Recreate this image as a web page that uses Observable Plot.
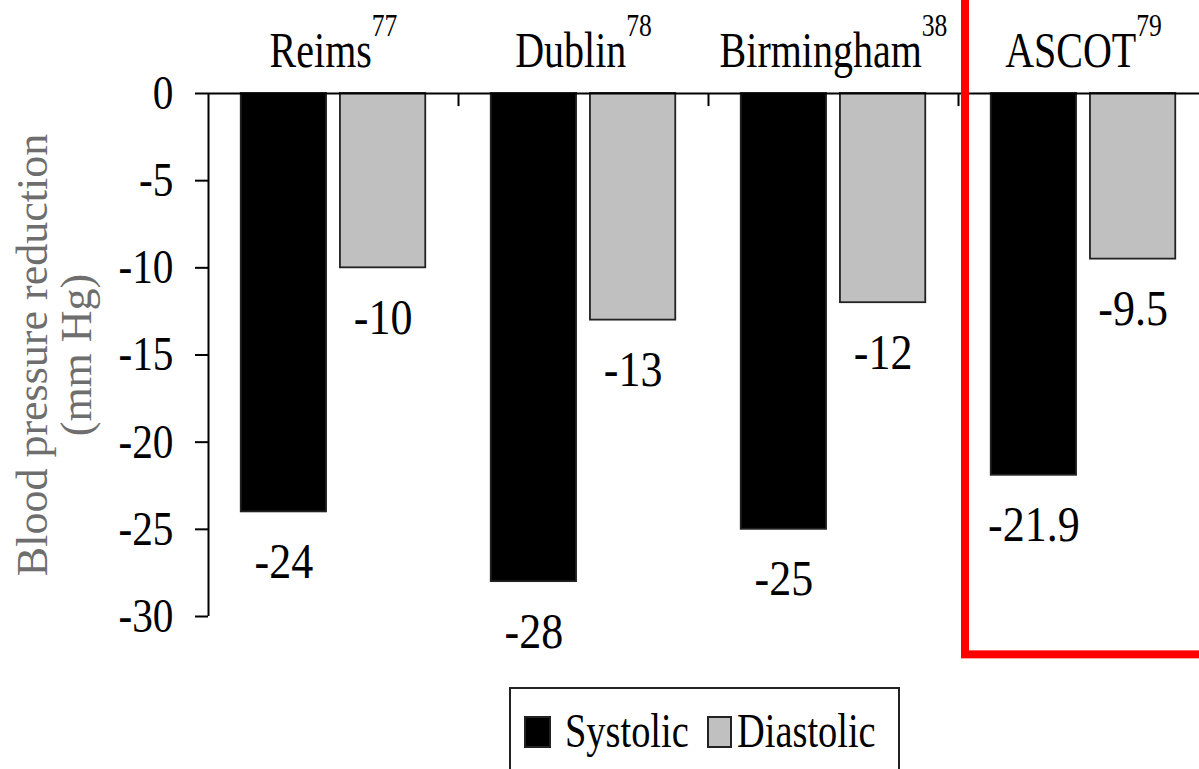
<!DOCTYPE html>
<html>
<head>
<meta charset="utf-8">
<script src="https://cdn.jsdelivr.net/npm/d3@7"></script>
<script src="https://cdn.jsdelivr.net/npm/@observablehq/plot@0.6"></script>
<style>
  html, body { margin: 0; padding: 0; background: #fff; overflow: hidden; }
  #chart svg { display: block; }
  #legend { margin: 7px 0 0 509px; }
</style>
</head>
<body>
<div id="chart"></div>
<div id="legend"></div>
<script>
// Study names and their reference numbers
const studies = ["Reims", "Dublin", "Birmingham", "ASCOT"];
const refs = ["77", "78", "38", "79"];
const series = ["Systolic", "Diastolic"];
// Blood pressure reduction (mm Hg)
const systolic = [-24, -28, -25, -21.9];
const diastolic = [-10, -13, -12, -9.5];
const yTicks = [0, -5, -10, -15, -20, -25, -30];
const colors = ["#000000", "#c0c0c0"];
const yTitle = "Blood pressure reduction\n(mm Hg)";
const highlighted = "ASCOT";

const serif = "'Liberation Serif', 'Times New Roman', serif";

// Sub-band for the two bars inside each study slot
const sub = d3.scaleBand(series, [-0.5, 0.5]).paddingInner(0.14).paddingOuter(0.33);

const rows = studies.flatMap((study, i) =>
  series.map((s, j) => {
    const value = j === 0 ? systolic[i] : diastolic[i];
    const x1 = i + sub(s);
    return {study, series: s, value, x1, x2: x1 + sub.bandwidth(), xc: x1 + sub.bandwidth() / 2};
  })
);

const boundaries = d3.range(1, studies.length).map(i => i - 0.5);
const hi = studies.indexOf(highlighted);

const chart = Plot.plot({
  width: 1199,
  height: 680,
  marginLeft: 208,
  marginRight: 0,
  marginTop: 93,
  marginBottom: 64,
  style: {fontFamily: serif, fontSize: "50px", color: "#000", background: "#fff"},
  x: {type: "linear", domain: [-0.5, studies.length - 0.5], range: [208, 1208], axis: null},
  y: {domain: [-30, 0]},
  color: {domain: series, range: colors},
  marks: [
    Plot.rectY(rows, {x1: "x1", x2: "x2", y1: 0, y2: "value", fill: "series", stroke: "#222", strokeWidth: 1.8}),
    Plot.ruleY([0], {stroke: "#000", strokeWidth: 2}),
    Plot.ruleX([-0.5], {y1: -30, y2: 0, stroke: "#000", strokeWidth: 2}),
    Plot.ruleX(boundaries, {y1: 0, y2: -0.75, stroke: "#000", strokeWidth: 2}),
    Plot.axisY({ticks: yTicks, tickFormat: d => String(d), tickSize: 13, tickPadding: 22,
                strokeWidth: 2, fontSize: 48, label: null}),
    Plot.text([yTitle], {frameAnchor: "left", textAnchor: "middle", rotate: -90, dx: -193, lineAnchor: "top",
                         fontSize: 44, fill: "#6e6e6e", lineHeight: 1.0, ariaDescription: "ytitle"}),
    Plot.text(studies, {x: (d, i) => i, frameAnchor: "top", dy: -27, lineAnchor: "bottom",
                        fontSize: 50, ariaDescription: "study"}),
    Plot.text(rows, {x: "xc", y: "value", text: d => String(d.value), dy: 50, lineAnchor: "middle",
                     fontSize: 50, ariaDescription: "value"}),
    // Highlight frame around the ASCOT study
    Plot.rect([highlighted], {x1: hi - 0.5 + 0.028, x2: hi + 0.65, y1: -32.2, y2: 8,
                              fill: "none", stroke: "#ff0000", strokeWidth: 8})
  ]
});

document.getElementById("chart").append(chart);

// Reference numbers as superscripts after each study name
d3.select(chart).selectAll('g[aria-description="study"] text').each(function () {
  const i = studies.indexOf(this.textContent);
  if (i < 0) return;
  d3.select(this).append("tspan").attr("dy", -31).attr("font-size", 32).text(refs[i]);
});

// Narrow the glyphs horizontally
function squeeze(root, selector, f) {
  d3.select(root).selectAll(selector).each(function () {
    const L = this.getComputedTextLength();
    this.setAttribute("textLength", L * f);
    this.setAttribute("lengthAdjust", "spacingAndGlyphs");
  });
}
squeeze(chart, 'g[aria-description="study"] text', 0.8);
squeeze(chart, 'g[aria-description="value"] text', 0.88);
squeeze(chart, 'g[aria-label="y-axis tick label"] text', 0.86);

// Legend
const lg = d3.select("#legend").append("svg").attr("width", 400).attr("height", 100)
  .style("display", "block").style("font-family", serif);
lg.append("rect").attr("x", 1).attr("y", 1).attr("width", 389).attr("height", 140)
  .attr("fill", "#fff").attr("stroke", "#222").attr("stroke-width", 2);
const items = [
  {label: series[0], sx: 16, sw: 25, tx: 56},
  {label: series[1], sx: 199, sw: 23, tx: 228}
];
items.forEach((it, k) => {
  lg.append("rect").attr("x", it.sx).attr("y", 30).attr("width", it.sw).attr("height", 30)
    .attr("fill", colors[k]).attr("stroke", "#222").attr("stroke-width", 2);
  lg.append("text").attr("x", it.tx).attr("y", 60).attr("font-size", 48).attr("fill", "#000")
    .attr("class", "lg-label").text(it.label);
});
squeeze(lg.node(), "text.lg-label", 0.8);
</script>
</body>
</html>
